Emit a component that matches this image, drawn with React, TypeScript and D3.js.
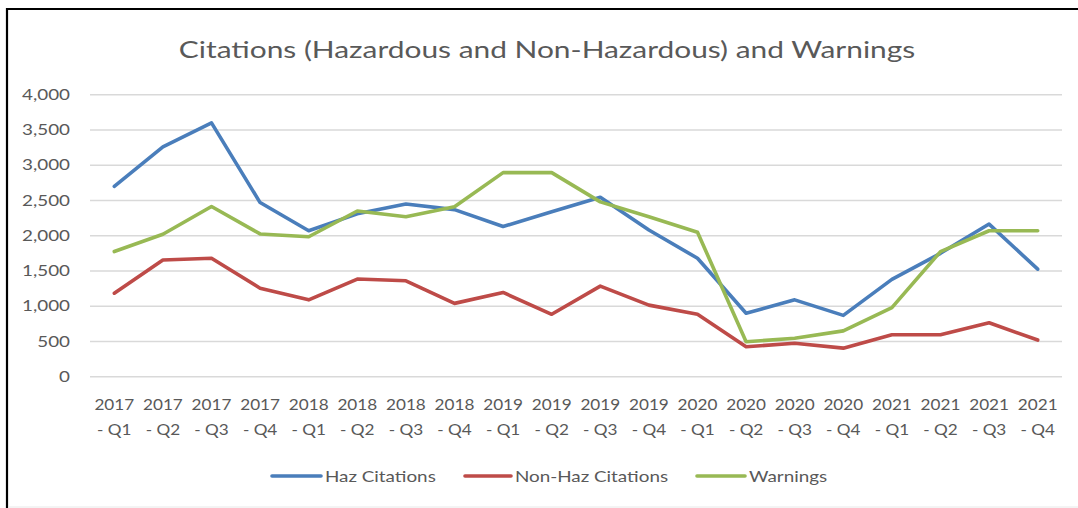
import React from "react";
import * as d3 from "d3";

const categories = [
  "2017 - Q1", "2017 - Q2", "2017 - Q3", "2017 - Q4",
  "2018 - Q1", "2018 - Q2", "2018 - Q3", "2018 - Q4",
  "2019 - Q1", "2019 - Q2", "2019 - Q3", "2019 - Q4",
  "2020 - Q1", "2020 - Q2", "2020 - Q3", "2020 - Q4",
  "2021 - Q1", "2021 - Q2", "2021 - Q3", "2021 - Q4",
];
const hazCitations = [2700, 3260, 3600, 2470, 2070, 2310, 2450, 2370, 2130, 2340, 2545, 2080, 1680, 900, 1090, 870, 1380, 1750, 2165, 1525];
const nonHazCitations = [1185, 1655, 1680, 1255, 1090, 1385, 1360, 1040, 1195, 885, 1285, 1015, 885, 425, 475, 405, 595, 595, 765, 520];
const warnings = [1775, 2020, 2415, 2025, 1985, 2350, 2270, 2410, 2895, 2895, 2480, 2270, 2050, 495, 545, 650, 980, 1775, 2070, 2070];
const yTicks = [0, 500, 1000, 1500, 2000, 2500, 3000, 3500, 4000];

const series = [
  { name: "Haz Citations", values: hazCitations, color: "#4a7ebb" },
  { name: "Non-Haz Citations", values: nonHazCitations, color: "#be4b48" },
  { name: "Warnings", values: warnings, color: "#98b954" },
];

const W = 1078;
const H = 508;
const FONT = "Lato, 'Open Sans', sans-serif";

function SText({
  x,
  y,
  sx,
  anchor,
  size,
  dy,
  children,
}: {
  x: number;
  y: number;
  sx: number;
  anchor?: string;
  size: number;
  dy?: string;
  children: React.ReactNode;
}) {
  return (
    <text
      transform={`translate(${x},${y}) scale(${sx},1)`}
      textAnchor={anchor || "start"}
      fontSize={size}
      dy={dy}
      fill="#595959"
    >
      {children}
    </text>
  );
}

export default function App() {
  const x = d3.scaleBand<string>().domain(categories).range([90, 1062]);
  const y = d3.scaleLinear().domain([0, 4000]).range([376.7, 94.7]);
  const fmt = d3.format(",");
  const line = d3
    .line<number>()
    .x((_, i) => (x(categories[i]) as number) + x.bandwidth() / 2)
    .y((d) => y(d));

  const legendItems = [
    { x1: 272, x2: 321, tx: 325 },
    { x1: 465, x2: 511, tx: 515 },
    { x1: 697, x2: 745, tx: 749 },
  ];

  return (
    <svg
      width={W}
      height={H}
      style={{ position: "absolute", left: 0, top: 0, background: "#fff" }}
      fontFamily={FONT}
    >
      <rect x={0} y={0} width={W} height={H} fill="#fff" />
      <line x1={6} x2={W} y1={9} y2={9} stroke="#000" strokeWidth={2.2} />
      <line x1={7} x2={7} y1={8} y2={H} stroke="#000" strokeWidth={2.2} />
      <line x1={8} x2={W} y1={507} y2={507} stroke="#e8e8e8" strokeWidth={1} />

      <SText x={547} y={58} sx={1.3} anchor="middle" size={23}>
        Citations (Hazardous and Non-Hazardous) and Warnings
      </SText>

      {yTicks.map((t) => (
        <g key={t}>
          <line x1={90} x2={1062} y1={y(t)} y2={y(t)} stroke="#d9d9d9" strokeWidth={1.5} />
          <SText x={70} y={y(t)} sx={1.3} anchor="end" size={14.5} dy="0.35em">
            {fmt(t)}
          </SText>
        </g>
      ))}

      {categories.map((c) => {
        const cx = (x(c) as number) + x.bandwidth() / 2;
        const [yr, q] = c.split(" - ");
        return (
          <g key={c}>
            <SText x={cx} y={410} sx={1.1} anchor="middle" size={15.6}>
              {yr}
            </SText>
            <SText x={cx} y={435} sx={1.1} anchor="middle" size={15.6}>
              {"- " + q}
            </SText>
          </g>
        );
      })}

      {series.map((s) => (
        <path
          key={s.name}
          d={line(s.values) || ""}
          fill="none"
          stroke={s.color}
          strokeWidth={3.6}
          strokeLinejoin="round"
          strokeLinecap="round"
        />
      ))}

      {series.map((s, i) => (
        <g key={s.name}>
          <line
            x1={legendItems[i].x1}
            x2={legendItems[i].x2}
            y1={476}
            y2={476}
            stroke={s.color}
            strokeWidth={3.6}
            strokeLinecap="round"
          />
          <SText x={legendItems[i].tx} y={476} sx={1.2} size={15.7} dy="0.35em">
            {s.name}
          </SText>
        </g>
      ))}
    </svg>
  );
}
